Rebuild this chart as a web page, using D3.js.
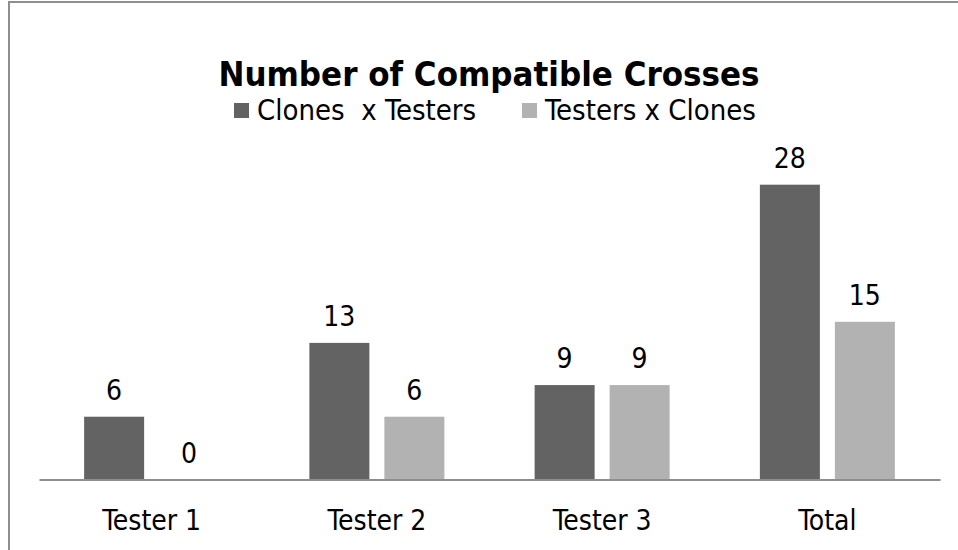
<!DOCTYPE html>
<html>
<head>
<meta charset="utf-8">
<script src="https://cdn.jsdelivr.net/npm/d3@7"></script>
<style>
  body { margin: 0; background: #fff; }
  svg text { font-family: Tahoma, "DejaVu Sans Condensed", "DejaVu Sans", sans-serif; fill: #000; }
</style>
</head>
<body>
<svg width="958" height="550"></svg>
<script>
"use strict";

var categories = ["Tester 1", "Tester 2", "Tester 3", "Total"];
var seriesNames = ["Clones  x Testers", "Testers x Clones"];
var clonesXTesters = [6, 13, 9, 28];
var testersXClones = [0, 6, 9, 15];
var colors = ["#636363", "#b2b2b2"];

var svg = d3.select("svg");

// chart frame (only top and left edges show inside the window)
svg.append("rect")
    .attr("x", 9).attr("y", 2)
    .attr("width", 1000).attr("height", 600)
    .attr("fill", "none")
    .attr("stroke", "#8e8e8e")
    .attr("stroke-width", 2);

var x0 = d3.scaleBand()
    .domain(categories)
    .range([39, 940]);

// two 60px bars with a 15px gap, centred in each category
var x1 = d3.scaleBand()
    .domain(seriesNames)
    .range([x0.bandwidth() / 2 - 67.5, x0.bandwidth() / 2 + 67.5])
    .paddingInner(0.2);

var y = d3.scaleLinear()
    .domain([0, 30])
    .range([480, 163.6]);

var rows = categories.map(function(c, i) {
  return { cat: c, values: [clonesXTesters[i], testersXClones[i]] };
});

var group = svg.selectAll(".group")
    .data(rows)
    .enter()
      .append("g")
      .attr("class", "group")
      .attr("transform", function(d) { return "translate(" + x0(d.cat) + ",0)"; });

group.selectAll("rect")
    .data(function(d) { return d.values.map(function(v, j) { return { name: seriesNames[j], v: v, j: j }; }); })
    .enter()
      .append("rect")
      .attr("x", function(d) { return x1(d.name); })
      .attr("y", function(d) { return y(d.v); })
      .attr("width", x1.bandwidth())
      .attr("height", function(d) { return y(0) - y(d.v); })
      .attr("fill", function(d) { return colors[d.j]; });

group.selectAll(".lbl")
    .data(function(d) { return d.values.map(function(v, j) { return { name: seriesNames[j], v: v }; }); })
    .enter()
      .append("text")
      .attr("class", "lbl")
      .attr("x", function(d) { return x1(d.name) + x1.bandwidth() / 2; })
      .attr("y", function(d) { return y(d.v) - 17; })
      .attr("text-anchor", "middle")
      .style("font-size", "28px")
      .text(function(d) { return d.v; });

// x axis
var xAxis = svg.append("g")
    .attr("transform", "translate(0,479.5)")
    .call(d3.axisBottom(x0).tickSize(0).tickPadding(0));
xAxis.select(".domain").attr("stroke", "#8e8e8e").attr("stroke-width", 2);
xAxis.selectAll("text")
    .attr("dy", null)
    .attr("y", 50)
    .style("font-size", "28px")
    .attr("fill", "#000");
xAxis.attr("font-family", null).attr("font-size", null);

// title
svg.append("text")
    .attr("x", 489)
    .attr("y", 86)
    .attr("text-anchor", "middle")
    .style("font-size", "34.5px")
    .style("font-weight", "bold")
    .text("Number of Compatible Crosses");

// legend
var legendX = [234, 522];
var legend = svg.selectAll(".legend")
    .data(seriesNames)
    .enter()
      .append("g")
      .attr("class", "legend")
      .attr("transform", function(d, i) { return "translate(" + legendX[i] + ",103)"; });

legend.append("rect")
    .attr("width", 15).attr("height", 15)
    .attr("fill", function(d, i) { return colors[i]; });

legend.append("text")
    .attr("x", 23)
    .attr("y", 17)
    .style("font-size", "29px")
    .style("white-space", "pre")
    .attr("xml:space", "preserve")
    .text(function(d) { return d; });
</script>
</body>
</html>
